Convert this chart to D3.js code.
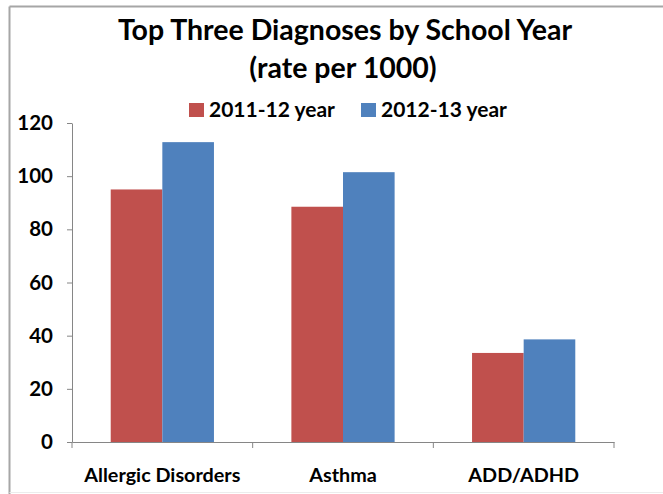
<!DOCTYPE html>
<html>
<head>
<meta charset="utf-8">
<script src="https://cdn.jsdelivr.net/npm/d3@7"></script>
<style>
  html, body { margin: 0; padding: 0; background: #fff; }
  svg { display: block; }
  text { font-family: Lato, "Open Sans", sans-serif; font-weight: bold; fill: #000; }
</style>
</head>
<body>
<svg id="chart" width="663" height="494"></svg>
<script>
const categories = ["Allergic Disorders", "Asthma", "ADD/ADHD"];
const seriesNames = ["2011-12 year", "2012-13 year"];
const values2011 = [95, 88.5, 33.5];
const values2012 = [112.8, 101.5, 38.6];
const yTicks = [0, 20, 40, 60, 80, 100, 120];
const colors = ["#C0504D", "#4F81BD"];
const titleLines = ["Top Three Diagnoses by School Year", "(rate per 1000)"];

const svg = d3.select("#chart");

// frame
svg.append("line").attr("x1", 9.5).attr("x2", 9.5).attr("y1", 6.5).attr("y2", 494)
  .attr("stroke", "#a6a6a6").attr("stroke-width", 2);
svg.append("line").attr("x1", 9.5).attr("x2", 663).attr("y1", 6.5).attr("y2", 6.5)
  .attr("stroke", "#a6a6a6").attr("stroke-width", 2);
svg.append("line").attr("x1", 9.5).attr("x2", 663).attr("y1", 492.5).attr("y2", 492.5)
  .attr("stroke", "#ececec").attr("stroke-width", 1);

const x0 = d3.scaleBand().domain(categories).range([72, 614]).paddingInner(0).paddingOuter(0);
const x1 = d3.scaleBand().domain(seriesNames).range([0, x0.bandwidth()]).paddingInner(0).paddingOuter(0.75);
const y = d3.scaleLinear().domain([0, 120]).range([442, 123]);

// title
svg.append("text").attr("x", 345).attr("y", 40).attr("text-anchor", "middle")
  .style("font-size", "28.5px").text(titleLines[0]);
svg.append("text").attr("x", 343).attr("y", 78).attr("text-anchor", "middle")
  .style("font-size", "28.5px").text(titleLines[1]);

// legend
const legendX = [189, 361];
seriesNames.forEach((s, i) => {
  svg.append("rect").attr("x", legendX[i]).attr("y", 103).attr("width", 15).attr("height", 14)
    .attr("fill", colors[i]);
  svg.append("text").attr("x", legendX[i] + 20).attr("y", 117)
    .style("font-size", "21px").text(s);
});

// bars
const rows = categories.map((c, i) => ({ cat: c, vals: [values2011[i], values2012[i]] }));
const g = svg.append("g");
rows.forEach(r => {
  r.vals.forEach((v, j) => {
    g.append("rect")
      .attr("x", x0(r.cat) + x1(seriesNames[j]))
      .attr("y", y(v))
      .attr("width", x1.bandwidth())
      .attr("height", y(0) - y(v))
      .attr("fill", colors[j]);
  });
});

// y axis
const yAxis = svg.append("g").attr("transform", "translate(72,0)")
  .call(d3.axisLeft(y).tickValues(yTicks).tickSize(5).tickSizeOuter(0).tickPadding(14));
yAxis.selectAll("path, line").attr("stroke", "#868686");
yAxis.selectAll("text").style("font-size", "20.5px").style("font-family", "Lato, sans-serif").attr("fill", "#000");

// x axis
const xAxis = svg.append("g").attr("transform", "translate(0,442)")
  .call(d3.axisBottom(x0).tickSize(0).tickSizeOuter(0));
xAxis.selectAll("path").attr("stroke", "#868686");
xAxis.selectAll("text").style("font-size", "19.8px").style("font-family", "Lato, sans-serif")
  .attr("fill", "#000").attr("y", 40).attr("dy", 0);
const boundaries = categories.map(c => x0(c)).concat([x0.range()[1]]);
xAxis.selectAll(".bound").data(boundaries).enter().append("line")
  .attr("x1", d => d).attr("x2", d => d).attr("y1", 0).attr("y2", 6)
  .attr("stroke", "#868686");
</script>
</body>
</html>
